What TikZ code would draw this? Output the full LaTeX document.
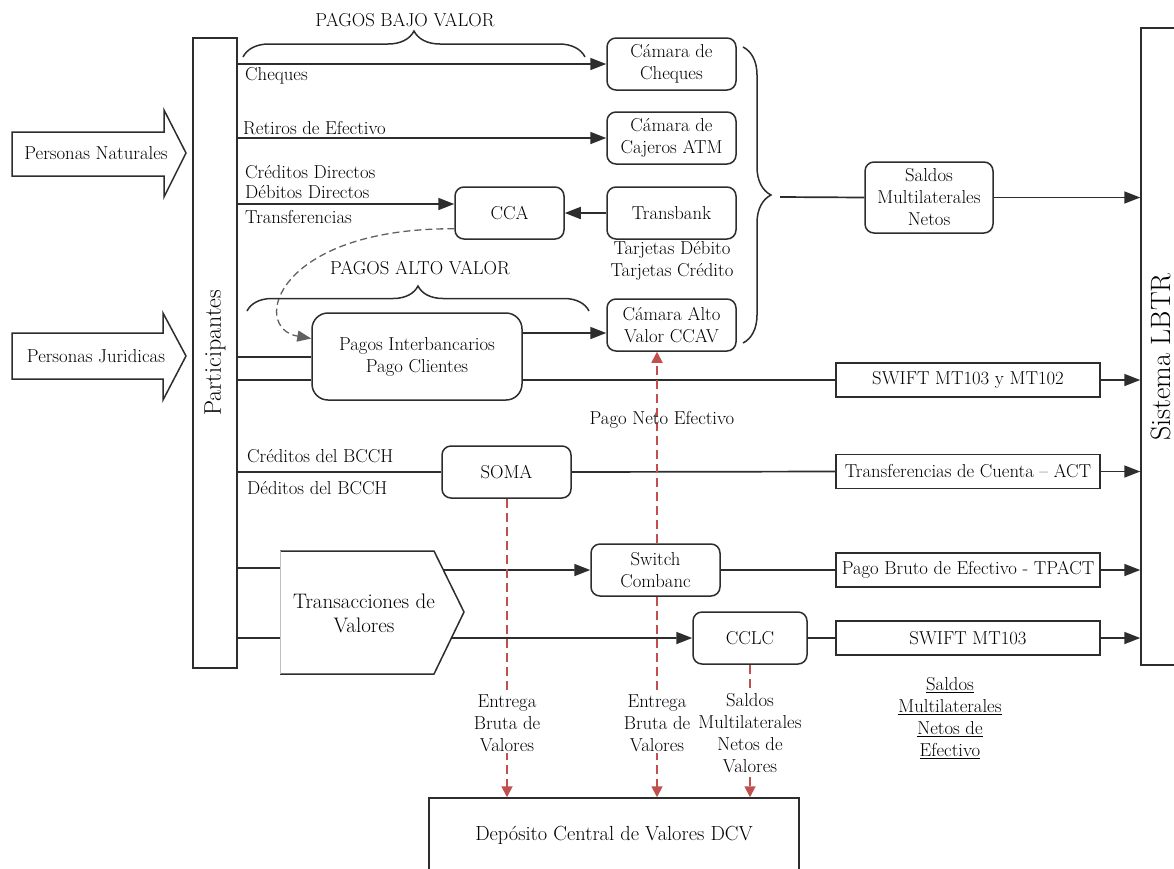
\documentclass[tikz,border=0pt]{standalone}
\usepackage{fontspec}
\usetikzlibrary{arrows.meta,decorations.pathreplacing,calc}
\definecolor{redline}{RGB}{192,80,77}
\definecolor{boxline}{RGB}{45,45,45}
\tikzset{
  rbox/.style={draw=boxline, line width=1.5pt, rounded corners=9pt, align=center, inner sep=2pt},
  sbox/.style={draw=boxline, line width=1.5pt, align=center, inner sep=2pt},
  link/.style={draw=boxline, line width=1.7pt},
  arr/.style={link, -{Triangle[length=16pt,width=12pt]}},
  redarr/.style={draw=redline, line width=1.8pt, dash pattern=on 9pt off 5pt, -{Triangle[length=11pt,width=11pt]}},
  cbrace/.style={draw=boxline, line width=1.5pt, decorate, decoration={brace, amplitude=#1}},
  lbl/.style={anchor=west, inner sep=0pt},
  redlbl/.style={align=center, fill=white, inner sep=1pt}
}
\begin{document}
\begin{tikzpicture}[x=1pt,y=-1pt,every node/.style={font=\fontsize{18.7}{22}\selectfont}]
\useasboundingbox (0,0) rectangle (1174,868);
\clip (0,0) rectangle (1174,868);
% Entry arrows
\draw[boxline, line width=1.5pt] (12,132) -- (164,132) -- (164,110) -- (186,153) -- (164,197) -- (164,176) -- (12,176) -- cycle;
\node (nat) at (96,153) {Personas Naturales};
\draw[boxline, line width=1.5pt] (12,333) -- (163,333) -- (163,313) -- (186,356) -- (163,400) -- (163,379) -- (12,379) -- cycle;
\node (jur) at (96,356) {Personas Juridicas};
% Participants and LBTR
\node[sbox, minimum width=44pt, minimum height=630pt] (part) at (215,353) {};
\node[rotate=90, font=\fontsize{24}{28}\selectfont] (parttxt) at (part) {Participantes};
\node[sbox, minimum width=44pt, minimum height=637pt] (lbtr) at (1163,346.5) {};
\node[rotate=90, font=\fontsize{28}{32}\selectfont] (lbtrtxt) at (1161,357) {Sistema LBTR};
% Clearing houses
\node[rbox, minimum width=129pt, minimum height=52pt] (chq) at (671.5,64) {Cámara de\\Cheques};
\node[rbox, minimum width=129pt, minimum height=52pt] (atm) at (671.5,138) {Cámara de\\Cajeros ATM};
\node[rbox, minimum width=129pt, minimum height=52pt] (tbk) at (671.5,213) {Transbank};
\node[rbox, minimum width=129pt, minimum height=52pt] (ccav) at (671.5,325) {Cámara Alto\\Valor CCAV};
\node[rbox, minimum width=109pt, minimum height=52pt] (cca) at (509.5,213) {CCA};
\node[rbox, rounded corners=16pt, minimum width=210pt, minimum height=87pt] (pagos) at (417,356.5) {Pagos Interbancarios\\Pago Clientes};
\node[rbox, minimum width=128pt, minimum height=71pt] (saldos) at (929,197.5) {Saldos\\Multilaterales\\Netos};
\node[rbox, minimum width=129pt, minimum height=52pt] (soma) at (506.5,472) {SOMA};
\node[rbox, minimum width=129pt, minimum height=52pt] (switch) at (655.5,570) {Switch\\Combanc};
\node[rbox, minimum width=114pt, minimum height=52pt] (cclc) at (750,638) {CCLC};
% Messages to LBTR
\node[sbox, minimum width=264pt, minimum height=34pt] (sw1) at (968,380) {SWIFT MT103 y MT102};
\node[sbox, minimum width=264pt, minimum height=34pt] (act) at (968,471.5) {Transferencias de Cuenta -- ACT};
\node[sbox, minimum width=264pt, minimum height=34pt] (tpact) at (968,570) {Pago Bruto de Efectivo - TPACT};
\node[sbox, minimum width=264pt, minimum height=34pt] (sw2) at (968,638) {SWIFT MT103};
% Securities
\coordinate (tA) at (280,551);
\coordinate (tB) at (434,551);
\coordinate (tC) at (464,612);
\coordinate (tD) at (434,674);
\coordinate (tE) at (280,674);
\fill[white] (tA) -- (tB) -- (tC) -- (tD) -- (tE) -- cycle;
\draw[boxline, line width=1.5pt] (tA) -- (tB) -- (tC) -- (tD) -- (tE);
\draw[black!25, line width=1pt] (tE) -- (tA);
\node[align=center, font=\fontsize{21}{24}\selectfont] (trans) at (364,613) {Transacciones de\\Valores};
\node[sbox, minimum width=370pt, minimum height=74pt, font=\fontsize{20.4}{22}\selectfont] (dcv) at (614,835) {Depósito Central de Valores DCV};
% Level markers
\coordinate (yCred) at (0,204);
\coordinate (yAlto) at (0,333);
\coordinate (yPag) at (0,357);
\coordinate (ySw) at (0,380);
\coordinate (yT1) at (0,568);
\coordinate (yT2) at (0,638);
\coordinate (btip) at (780,197);
% Low value payments
\draw[arr] (part.east |- chq.west) -- (chq.west);
\draw[arr] (part.east |- atm.west) -- (atm.west);
\draw[arr] (part.east |- yCred) -- (cca.west |- yCred);
\draw[arr] (tbk.west) -- (cca.east);
\draw[boxline!75, line width=1.3pt, dash pattern=on 7pt off 4pt, -{Triangle[length=14pt,width=11pt]}]
  ([yshift=11pt]cca.south west) .. controls (275,228) and (250,328) .. ([yshift=18pt]pagos.west);
\draw[cbrace=26] (243,57) -- (585,57);
\node (bajo) at (405,20) {PAGOS BAJO VALOR};
\draw[cbrace=28] (743,47) -- (743,343);
\draw[link] (btip) -- (saldos.west);
\draw[arr] (saldos.east) -- (lbtr.west |- saldos.east);
% High value payments
\draw[cbrace=25] (247,311) -- (589,311);
\node (alto) at (420,268) {PAGOS ALTO VALOR};
\draw[link] (part.east |- yPag) -- (pagos.west |- yPag);
\draw[link] (part.east |- ySw) -- (pagos.west |- ySw);
\draw[arr] (pagos.east |- yAlto) -- (ccav.west |- yAlto);
\draw[link] (pagos.east |- ySw) -- (sw1.west);
\draw[arr] (sw1.east) -- (lbtr.west |- sw1.east);
% Central bank
\draw[link] (part.east |- soma.west) -- (soma.west);
\draw[link] (soma.east) -- (act.west);
\draw[arr] (act.east) -- (lbtr.west |- act.east);
% Securities flows
\draw[link] (part.east |- yT1) -- (tA |- yT1);
\draw[link] (part.east |- yT2) -- (tA |- yT2);
\draw[arr] ($(tB)!0.311!(tC)$) -- (switch.west);
\draw[arr] ($(tC)!0.42!(tD)$) -- (cclc.west);
\draw[link] (switch.east) -- (tpact.west);
\draw[arr] (tpact.east) -- (lbtr.west |- tpact.east);
\draw[link] (cclc.east) -- (sw2.west);
\draw[arr] (sw2.east) -- (lbtr.west |- sw2.east);
% Delivery to DCV
\draw[redarr] ([xshift=1.5pt]switch.north) -- ([xshift=1.5pt]switch.north |- ccav.south);
\draw[redarr] ([xshift=0.5pt]soma.south) -- ([xshift=0.5pt]soma.south |- dcv.north);
\draw[redarr] ([xshift=1.5pt]switch.south) -- ([xshift=1.5pt]switch.south |- dcv.north);
\draw[redarr] (cclc.south) -- (cclc.south |- dcv.north);
% Labels
\node[lbl] (lchq) at (245,76) {Cheques};
\node[lbl] (lret) at (243,128) {Retiros de Efectivo};
\node[lbl] (lcre) at (245,172) {Créditos Directos};
\node[lbl] (ldeb) at (245,192) {Débitos Directos};
\node[lbl] (ltra) at (245,217) {Transferencias};
\node[align=center] (ltar) at (672,261) {Tarjetas Débito\\Tarjetas Crédito};
\node[lbl] (lbc1) at (247,456) {Créditos del BCCH};
\node[lbl] (lbc2) at (247,488) {Déditos del BCCH};
\node (lneto) at (662,420) {Pago Neto Efectivo};
\node[redlbl] (lent1) at (507,723) {Entrega\\Bruta de\\Valores};
\node[redlbl] (lent2) at (657,723) {Entrega\\Bruta de\\Valores};
\node[redlbl] (lsal) at (750,733) {Saldos\\Multilaterales\\Netos de\\Valores};
\node[align=center] (lefe) at (950,718) {\underline{Saldos}\\\underline{Multilaterales}\\\underline{Netos de}\\\underline{Efectivo}};
\end{tikzpicture}
\end{document}
